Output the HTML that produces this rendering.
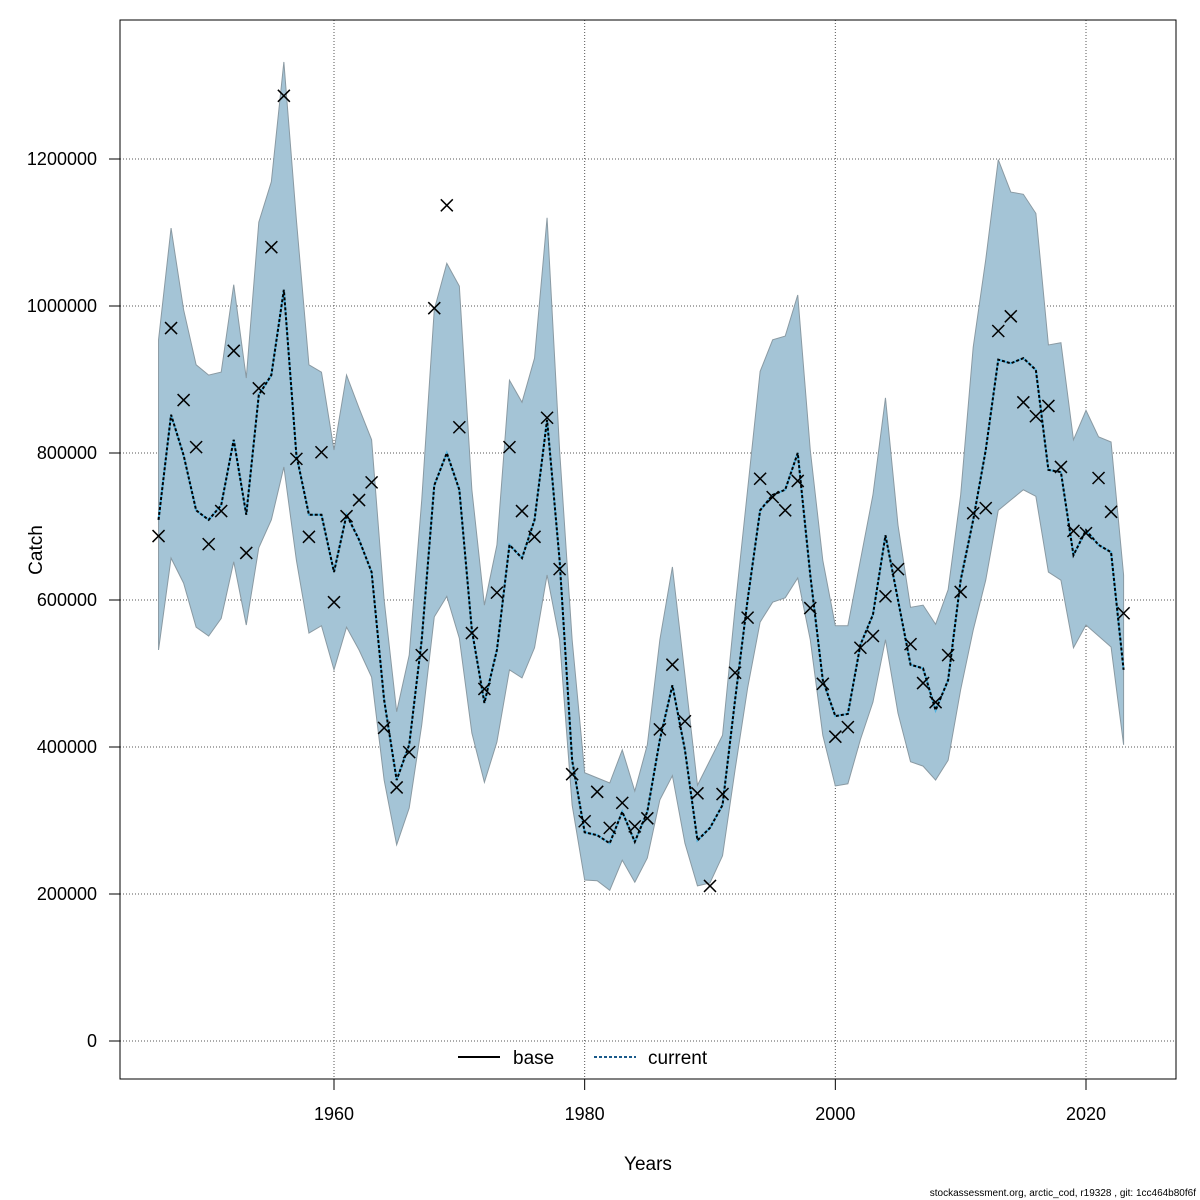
<!DOCTYPE html>
<html><head><meta charset="utf-8"><style>
body{margin:0;background:#fff;}
svg{display:block;font-family:"Liberation Sans",sans-serif;}
</style></head><body>
<svg id="chart" width="1200" height="1200" viewBox="0 0 1200 1200">
<rect x="0" y="0" width="1200" height="1200" fill="#fff"/>
<g id="grid"></g>
<g id="band"></g>
<g id="lines"></g>
<g id="points"></g>
<g id="axes"></g>
<rect x="120" y="20" width="1056" height="1059" fill="none" stroke="#000" stroke-width="1"/>
<text x="648" y="1170" font-size="19" text-anchor="middle">Years</text>
<text x="42" y="550" font-size="19" text-anchor="middle" transform="rotate(-90 42 550)">Catch</text>
<g>
<line x1="458" y1="1057" x2="500" y2="1057" stroke="#000" stroke-width="2"/>
<text x="513" y="1064" font-size="19">base</text>
<line x1="594" y1="1057" x2="636" y2="1057" stroke="#1a5a8a" stroke-width="2" stroke-dasharray="3,2"/>
<text x="648" y="1064" font-size="19">current</text>
</g>
<text x="1196" y="1196" font-size="10" text-anchor="end">stockassessment.org, arctic_cod, r19328 , git: 1cc464b80f6f</text>
</svg>
<script>
const years = [];
for (let y = 1946; y <= 2023; y++) years.push(y);
const observed = [687,970,872,808,676,721,939,664,888,1080,1286,792,686,801,597,714,736,760,426,345,393,525,997,1137,835,555,479,610,808,721,686,848,642,363,299,339,290,324,292,303,424,512,435,337,211,336,501,576,765,740,722,762,589,486,414,427,535,551,605,642,540,487,461,525,611,718,725,966,986,869,850,864,781,694,691,766,720,582];
const median = [709,852,797,722,709,729,818,716,879,906,1022,797,716,716,638,716,682,638,464,355,403,546,756,800,750,559,460,532,675,657,709,845,654,382,284,280,269,312,271,312,410,484,396,273,290,321,464,600,722,743,750,800,634,491,442,445,539,580,688,600,512,507,450,491,627,709,804,927,922,929,913,777,774,661,695,675,665,505];
const upper = [954,1106,995,920,906,910,1029,902,1114,1169,1332,1117,920,910,804,906,861,818,600,448,525,736,995,1058,1027,750,593,675,899,869,929,1120,804,546,365,358,351,396,340,403,546,645,498,348,382,416,589,750,911,954,959,1015,804,654,565,565,654,743,875,702,590,593,567,614,743,944,1063,1199,1155,1152,1126,947,950,818,858,822,815,634];
const lower = [532,657,623,563,551,575,652,566,671,709,781,654,555,565,505,563,532,495,355,267,317,430,577,605,548,419,352,407,505,494,535,634,546,321,219,218,205,246,216,249,328,361,269,211,215,252,369,480,570,597,603,630,546,416,347,350,410,461,546,446,380,374,355,382,478,559,627,722,736,750,741,638,627,535,566,551,536,403];
const xTicks = [1960,1980,2000,2020];
const yTicks = [0,200000,400000,600000,800000,1000000,1200000];

const NS = 'http://www.w3.org/2000/svg';
const xs = yr => 334 + (yr - 1960) * (1086 - 334) / 60;
const ys = v => 1041 - v * (882 / 1200000);
function mk(tag, attrs, parent){const e=document.createElementNS(NS,tag);for(const k in attrs)e.setAttribute(k,attrs[k]);parent.appendChild(e);return e;}
const grid=document.getElementById('grid'), band=document.getElementById('band'), lines=document.getElementById('lines'), pts=document.getElementById('points'), axes=document.getElementById('axes');

xTicks.forEach(t=>{
  const g=mk('line',{x1:xs(t),x2:xs(t),y1:20,y2:1079,stroke:'#555','stroke-width':1,'stroke-dasharray':'1,2'},grid);
  
  
  const tk=mk('line',{x1:xs(t),x2:xs(t),y1:1079,y2:1090,stroke:'#000'},axes);
  
  
  const tx=mk('text',{x:xs(t),y:1120,'font-size':18,'text-anchor':'middle'},axes);
  tx.textContent=t;
  
  
});
yTicks.forEach(t=>{
  const g=mk('line',{x1:120,x2:1176,y1:ys(t),y2:ys(t),stroke:'#555','stroke-width':1,'stroke-dasharray':'1,2'},grid);
  
  
  const tk=mk('line',{x1:109,x2:120,y1:ys(t),y2:ys(t),stroke:'#000'},axes);
  
  
  const tx=mk('text',{x:97,y:ys(t)+6,'font-size':18,'text-anchor':'end'},axes);
  tx.textContent=t;
  
  
});

let d='';
years.forEach((yr,i)=>{d+=(i?'L':'M')+xs(yr)+','+ys(upper[i]*1000);});
for(let i=years.length-1;i>=0;i--) d+='L'+xs(years[i])+','+ys(lower[i]*1000);
d+='Z';
const bp=mk('path',{d:d,fill:'#a4c4d6',stroke:'#8a9aa3','stroke-width':1},band);



const md=years.map((yr,i)=>xs(yr)+','+ys(median[i]*1000)).join(' ');
const l1=mk('polyline',{points:md,fill:'none',stroke:'#4fb3e0','stroke-width':2},lines);


const l2=mk('polyline',{points:md,fill:'none',stroke:'#000','stroke-width':2,'stroke-dasharray':'3,2'},lines);



years.forEach((yr,i)=>{
  const x=xs(yr), y=ys(observed[i]*1000), s=6;
  const p=mk('path',{d:`M${x-s},${y-s}L${x+s},${y+s}M${x-s},${y+s}L${x+s},${y-s}`,stroke:'#000','stroke-width':1.5,fill:'none'},pts);
  
  
});
</script>
</body></html>
